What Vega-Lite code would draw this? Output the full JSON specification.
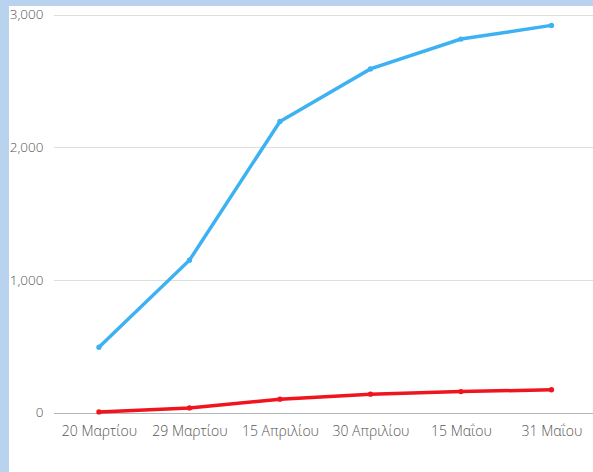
{
  "$schema": "https://vega.github.io/schema/vega-lite/v6.json",
  "width": 584,
  "height": 466,
  "autosize": {"type": "none"},
  "padding": {"left": 9, "top": 6, "right": 0, "bottom": 0},
  "background": "#b9d2ee",
  "config": {"view": {"fill": "white", "stroke": null}, "font": "Open Sans"},
  "data": {
    "values": [
      {"date": "20 Μαρτίου", "series": "Κρούσματα", "value": 495},
      {"date": "29 Μαρτίου", "series": "Κρούσματα", "value": 1150},
      {"date": "15 Απριλίου", "series": "Κρούσματα", "value": 2195},
      {"date": "30 Απριλίου", "series": "Κρούσματα", "value": 2590},
      {"date": "15 Μαΐου", "series": "Κρούσματα", "value": 2815},
      {"date": "31 Μαΐου", "series": "Κρούσματα", "value": 2918},
      {"date": "20 Μαρτίου", "series": "Θάνατοι", "value": 8},
      {"date": "29 Μαρτίου", "series": "Θάνατοι", "value": 38},
      {"date": "15 Απριλίου", "series": "Θάνατοι", "value": 104},
      {"date": "30 Απριλίου", "series": "Θάνατοι", "value": 142},
      {"date": "15 Μαΐου", "series": "Θάνατοι", "value": 161},
      {"date": "31 Μαΐου", "series": "Θάνατοι", "value": 175}
    ]
  },
  "encoding": {
    "x": {
      "field": "date",
      "type": "ordinal",
      "sort": null,
      "scale": {"type": "point", "padding": 0.7265, "align": 0.684},
      "axis": {
        "title": null,
        "orient": "bottom",
        "offset": -59,
        "domain": false,
        "ticks": false,
        "tickSize": 0,
        "labelPadding": 11,
        "labelFontSize": 14,
        "labelFontWeight": 300,
        "labelColor": "#555555",
        "labelAngle": 0,
        "grid": false
      }
    },
    "y": {
      "field": "value",
      "type": "quantitative",
      "scale": {"domain": [-444.2, 3064], "nice": false, "zero": false},
      "axis": {
        "title": null,
        "offset": -34,
        "values": [0, 1000, 2000, 3000],
        "format": ",d",
        "domain": false,
        "ticks": false,
        "tickSize": 0,
        "labelPadding": 0,
        "labelFontSize": 13.5,
        "labelFontWeight": 300,
        "labelColor": "#555555",
        "grid": true,
        "gridColor": {"condition": {"test": "datum.value === 0", "value": "#b5b5b5"}, "value": "#dedede"},
        "gridDash": [0, 44.5, 1000, 0],
        "gridWidth": 1
      }
    },
    "color": {
      "field": "series",
      "type": "nominal",
      "scale": {"domain": ["Κρούσματα", "Θάνατοι"], "range": ["#3db2f2", "#f0141e"]},
      "legend": null
    }
  },
  "layer": [
    {"mark": {"type": "line", "strokeWidth": 3.5}},
    {"mark": {"type": "circle", "size": 28, "opacity": 1}}
  ]
}
